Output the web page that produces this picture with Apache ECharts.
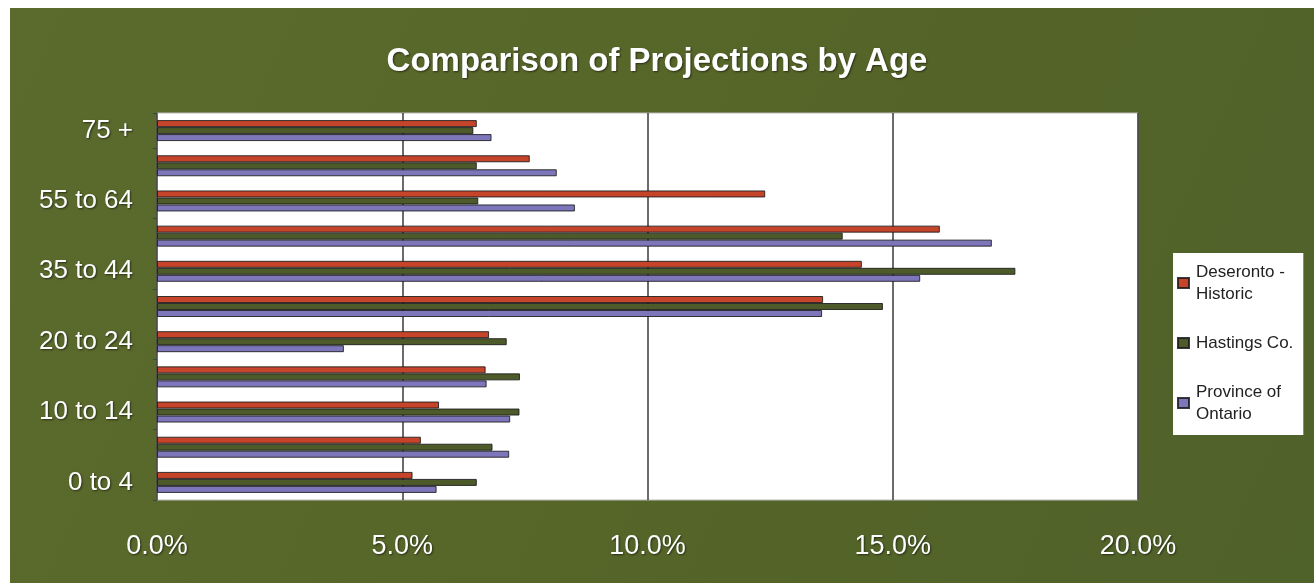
<!DOCTYPE html>
<html>
<head>
<meta charset="utf-8">
<script src="https://cdn.jsdelivr.net/npm/echarts@6/dist/echarts.min.js"></script>
<style>
html,body{margin:0;padding:0;background:#fff;}
#c{width:1314px;height:583px;}
</style>
</head>
<body>
<div id="c"></div>
<script>
const categories = ["0 to 4","5 to 9","10 to 14","15 to 19","20 to 24","25 to 34","35 to 44","45 to 54","55 to 64","65 to 74","75 +"];
const deseronto = [5.21, 5.38, 5.75, 6.70, 6.77, 13.58, 14.37, 15.96, 12.40, 7.60, 6.52];
const hastings  = [6.52, 6.84, 7.39, 7.40, 7.13, 14.80, 17.50, 13.98, 6.55, 6.52, 6.45];
const ontario   = [5.70, 7.18, 7.20, 6.72, 3.81, 13.56, 15.56, 17.02, 8.52, 8.15, 6.82];
const xTicks = [0, 5, 10, 15, 20];
const seriesNames = ["Deseronto - Historic", "Hastings Co.", "Province of Ontario"];
const legendLabels = {"Deseronto - Historic": "Deseronto -\nHistoric", "Hastings Co.": "Hastings Co.", "Province of Ontario": "Province of\nOntario"};

const chart = echarts.init(document.getElementById('c'), null, {renderer: 'canvas'});
const colors = ['#c6442a', '#4d5b2b', '#7d76ba'];
const datas = [deseronto, hastings, ontario];
const shadow = {textShadowColor: 'rgba(0,0,0,0.55)', textShadowBlur: 2, textShadowOffsetX: 1, textShadowOffsetY: 1};
const font = 'Liberation Sans, Arial, sans-serif';

chart.setOption({
  backgroundColor: '#ffffff',
  animation: false,
  graphic: [{
    type: 'rect', z: -10, silent: true,
    shape: {x: 10, y: 8, width: 1304, height: 575},
    style: {fill: new echarts.graphic.LinearGradient(0, 0, 1, 1, [
      {offset: 0, color: '#5b6a2d'}, {offset: 0.5, color: '#566528'}, {offset: 1, color: '#4f622a'}])}
  }],
  title: {
    text: 'Comparison of Projections by Age',
    left: 'center', top: 40,
    textStyle: Object.assign({color: '#ffffff', fontSize: 33, fontWeight: 'bold', fontFamily: font}, shadow)
  },
  legend: {
    orient: 'vertical',
    left: 1173, top: 253,
    backgroundColor: '#ffffff',
    padding: [8, 10, 10, 4],
    itemGap: 27,
    itemWidth: 11, itemHeight: 10,
    icon: 'rect',
    data: seriesNames,
    formatter: n => legendLabels[n],
    textStyle: {color: '#222', fontSize: 17, lineHeight: 22, fontFamily: font, padding: [0, 0, 0, 2]}
  },
  grid: {
    left: 157, right: 176, top: 113, bottom: 83,
    show: true, backgroundColor: '#ffffff', borderColor: '#bbbbbb', borderWidth: 1
  },
  xAxis: {
    type: 'value', min: 0, max: 20, interval: 5,
    axisLine: {show: false},
    axisTick: {show: false},
    splitLine: {show: true, lineStyle: {color: '#3a3a3a', width: 1.5}},
    axisLabel: Object.assign({
      color: '#ffffff', fontSize: 27, margin: 33,
      fontFamily: font,
      formatter: v => xTicks.indexOf(v) >= 0 ? v.toFixed(1) + '%' : ''
    }, shadow)
  },
  yAxis: {
    type: 'category', data: categories,
    axisLine: {show: true, lineStyle: {color: '#6a7a3a', width: 1}},
    axisTick: {show: true, length: 4, lineStyle: {color: '#2f4a4a'}},
    axisLabel: Object.assign({
      color: '#ffffff', fontSize: 26, interval: 1, margin: 24,
      fontFamily: font
    }, shadow)
  },
  series: seriesNames.map((n, i) => ({
    name: n, type: 'bar', data: datas[i],
    barWidth: 7, barGap: '0%',
    itemStyle: {color: colors[i], borderColor: 'rgba(25,25,25,0.85)', borderWidth: 1}
  }))
});
</script>
</body>
</html>
